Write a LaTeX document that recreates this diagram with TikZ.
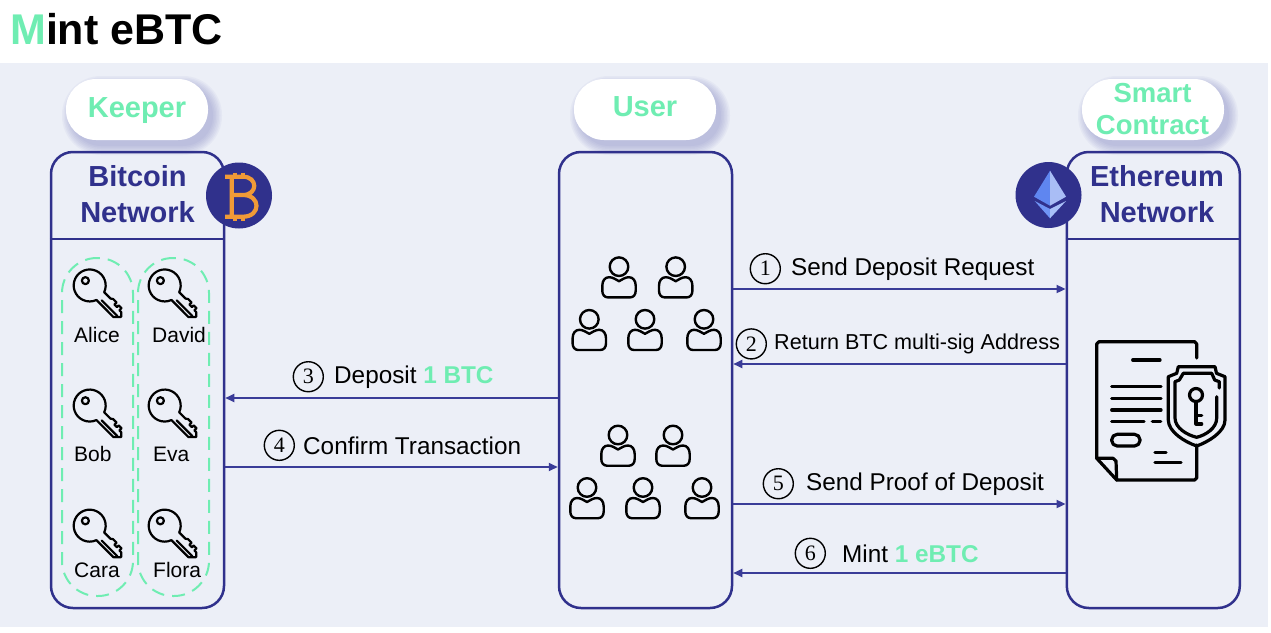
\documentclass[tikz,border=0pt]{standalone}
\usepackage{fontspec}
\setmainfont{Liberation Sans}
\newfontfamily\digitfont{Liberation Serif}
\usetikzlibrary{positioning, arrows.meta}
\definecolor{mintgreen}{HTML}{6FEDB2}
\definecolor{netblue}{HTML}{30318C}
\definecolor{linkblue}{HTML}{3A3C98}
\definecolor{bgblue}{HTML}{ECEFF7}
\definecolor{shadeblue}{HTML}{5A5DB0}
\definecolor{coinorange}{HTML}{F09A37}
\definecolor{ethleft}{HTML}{5F86F0}
\definecolor{ethright}{HTML}{A9BDF5}
\definecolor{ethlowleft}{HTML}{6F94F5}
\definecolor{ethlowright}{HTML}{A9C0F8}

\tikzset{
    >={Triangle[length=9pt,width=8pt]},
    panel/.style={draw=netblue, line width=2.5pt, rounded corners=22pt, minimum width=173pt, minimum height=456pt, inner sep=0pt},
    pilltag/.style={fill=white, rounded corners=30pt, minimum width=142pt, minimum height=61pt, inner sep=0pt},
    tagtext/.style={text=mintgreen, font=\bfseries\fontsize{29}{32}\selectfont, align=center, inner sep=0pt},
    nettext/.style={text=netblue, font=\bfseries\fontsize{29}{36}\selectfont, align=center, inner sep=0pt},
    link/.style={->, draw=linkblue, line width=2pt},
    steptext/.style={anchor=base west, inner sep=0pt, font=\fontsize{24.3}{28}\selectfont},
    stepnum/.style={draw, circle, line width=1.4pt, minimum size=30pt, inner sep=0pt, font=\digitfont\fontsize{22}{22}\selectfont},
    holder/.style={text=black, anchor=base west, inner sep=0pt, font=\fontsize{21}{24}\selectfont},
    keygroup/.style={draw=mintgreen, line width=2pt, dash pattern=on 13pt off 8pt, rounded corners=35pt, minimum width=71pt, minimum height=338pt, inner sep=0pt},
    badge/.style={circle, fill=netblue, minimum size=66pt, inner sep=0pt},
    icon/.style={line width=2.2pt, line join=round, line cap=round},
    pics/keyicon/.style={code={
        \begin{scope}[icon, x={(0.707pt,-0.707pt)}, y={(0.707pt,0.707pt)}]
            \draw (15,5.5) arc[start angle=20, end angle=340, radius=16] -- (39,-5.5) -- (44.5,0) -- (41,3.5)
                -- (38.5,3.5) -- (38.5,6.5) -- (34.5,6.5) -- (34.5,4) -- (31,4) -- (31,7) -- (26,7) -- (24,5.5) -- cycle;
            \draw (19,-2) -- (41,-2);
            \draw (-6.5,0.4) circle[radius=3.5];
        \end{scope}
    }},
    pics/personicon/.style={code={
        \draw[icon, line width=2.4pt] (0,0) circle[radius=9.3];
        \draw[icon, line width=2.4pt] (0,14.5) .. controls (-3,13) and (-6,10.5) .. (-10,10.5)
            .. controls (-14,10.5) and (-16.7,14) .. (-16.7,19) -- (-16.7,24)
            .. controls (-16.7,28) and (-14.5,30.7) .. (-11,30.7) -- (11,30.7)
            .. controls (14.5,30.7) and (16.7,28) .. (16.7,24) -- (16.7,19)
            .. controls (16.7,14) and (14,10.5) .. (10,10.5)
            .. controls (6,10.5) and (3,13) .. (0,14.5) -- cycle;
    }}
}

\begin{document}
\begin{tikzpicture}[x=1pt, y=-1pt]
    \useasboundingbox (0,0) rectangle (1271,632);
    \fill[white] (0,0) rectangle (1271,632);
    \fill[bgblue] (0,63) rectangle (1268,627);

    \node[anchor=base west, inner sep=0pt, font=\bfseries\fontsize{43}{43}\selectfont] (title) at (10,44) {\textcolor{mintgreen}{M}int eBTC};

    % soft shadows under the tags
    \foreach \cx in {137,645,1153} {
        \foreach \grow in {9,7.5,...,0} {
            \fill[shadeblue, opacity=0.05, rounded corners=30pt+\grow pt]
                (\cx-71-\grow+5,79-\grow+6) rectangle (\cx+71+\grow+5,140+\grow+6);
        }
    }
    \node[pilltag] (keeper) at (137,109.5) {};
    \node[pilltag] (user) at (645,109.5) {};
    \node[pilltag] (smart) at (1153,109.5) {};
    \node[tagtext] (keepertext) at (137,110.5) {Keeper};
    \node[tagtext] (usertext) at (645,107) {User};
    \node[tagtext, font=\bfseries\fontsize{27.5}{32}\selectfont] (smarttext) at (1152.5,109) {Smart\\Contract};

    % the three columns
    \node[panel] (btcnet) at (137.5,380) {};
    \node[panel] (users) at (645.5,380) {};
    \node[panel] (ethnet) at (1153.3,380) {};
    \draw[draw=netblue, line width=2.5pt] (btcnet.west |- 0,239) -- (btcnet.east |- 0,239);
    \draw[draw=netblue, line width=2.5pt] (ethnet.west |- 0,239) -- (ethnet.east |- 0,239);
    \node[nettext] (btctext) at (137.5,194) {Bitcoin\\Network};
    \node[nettext] (ethtext) at (1157,194) {Ethereum\\Network};

    % bitcoin badge
    \node[badge] (btcbadge) at (239,195.5) {};
    \draw[coinorange, line width=4.2pt, line join=round] (225,176.7) -- (243,176.7)
        .. controls (258,176.7) and (258,195) .. (243,195) -- (231.7,195)
        (243,195) .. controls (261,195) and (261,216.7) .. (243,216.7) -- (225,216.7)
        (231.7,176.7) -- (231.7,216.7);
    \draw[coinorange, line width=3.4pt] (235,172.5) -- (235,176.7) (243,172.5) -- (243,176.7)
        (235,216.7) -- (235,220.5) (243,216.7) -- (243,220.5);

    % ethereum badge
    \node[badge] (ethbadge) at (1048.5,195) {};
    \fill[ethleft] (1050,170.7) -- (1034,196.7) -- (1050,205.7) -- cycle;
    \fill[ethright] (1050,170.7) -- (1066,196.7) -- (1050,205.7) -- cycle;
    \fill[ethlowleft] (1034.7,201) -- (1050,209) -- (1050,218.3) -- cycle;
    \fill[ethlowright] (1066,201) -- (1050,209) -- (1050,218.3) -- cycle;

    % keys and their holders
    \node[keygroup] (leftkeys) at (97.5,427) {};
    \node[keygroup] (rightkeys) at (173.5,427) {};
    \pic at (89.7,285.5) {keyicon};
    \pic at (164.7,285.5) {keyicon};
    \pic at (89.7,405.6) {keyicon};
    \pic at (164.7,405.6) {keyicon};
    \pic at (89.7,525.7) {keyicon};
    \pic at (164.7,525.7) {keyicon};
    \node[holder] (alice) at (74,342) {Alice};
    \node[holder] (david) at (152,342) {David};
    \node[holder] (bob) at (74,461) {Bob};
    \node[holder] (eva) at (153,461) {Eva};
    \node[holder] (cara) at (74,577) {Cara};
    \node[holder] (flora) at (153,577) {Flora};

    % two groups of users
    \pic at (619,266.7) {personicon};
    \pic at (675.7,266.7) {personicon};
    \pic at (589.3,319.3) {personicon};
    \pic at (645,319.3) {personicon};
    \pic at (704,319.3) {personicon};
    \pic at (618,435) {personicon};
    \pic at (673,435) {personicon};
    \pic at (587,487.5) {personicon};
    \pic at (643,487.5) {personicon};
    \pic at (702,487.5) {personicon};

    % contract document with shield
    \begin{scope}[line width=3.2pt, line join=round, line cap=round]
        \draw (1196.7,358) -- (1196.7,344) -- (1194.7,341.7) -- (1099,341.7) -- (1096.7,344) -- (1096.7,458.3)
            -- (1116.7,480) -- (1194.7,480) -- (1196.7,478) -- (1196.7,445);
        \draw (1096.7,458.3) -- (1113,458.3) -- (1116,461) -- (1116.7,480);
        \draw (1132.7,360) -- (1160,360);
        \draw (1111.7,386.3) -- (1161,386.3);
        \draw (1111.7,398.3) -- (1161,398.3);
        \draw (1111.7,410) -- (1161,410);
        \draw (1111.7,421.7) -- (1144,421.7);
        \draw (1152.3,421.7) -- (1160.7,421.7);
        \draw[rounded corners=5.5pt] (1111.7,434.3) rectangle (1140,446);
        \draw (1155,452.7) -- (1166,452.7);
        \draw (1155,462.3) -- (1181,462.3);
        % shield
        \draw (1178.3,366.7) -- (1215,366.7) -- (1216.5,373.3) -- (1225,376.7) -- (1225,420)
            .. controls (1225,432) and (1208,442) .. (1196.7,446)
            .. controls (1185,442) and (1168.3,432) .. (1168.3,420) -- (1168.3,376.7) -- (1176.7,373.3) -- cycle;
        \draw (1219.3,388) -- (1219.3,381.7) -- (1214.7,380) -- (1211.7,373.3) -- (1183.3,373.3) -- (1179.3,380) -- (1175,381.7)
            -- (1175,418) .. controls (1175,428) and (1187,435) .. (1196.7,437.3)
            .. controls (1206,435) and (1216.7,428) .. (1216.7,418) -- (1216.7,396.7);
        \draw (1196,395) circle[radius=6.5];
        \draw (1196,401.7) -- (1196,424) -- (1201.7,424) (1196,415.5) -- (1201.7,415.5);
    \end{scope}

    % message rows
    \coordinate (row1) at (0,289);
    \coordinate (row2) at (0,364);
    \coordinate (row3) at (0,398);
    \coordinate (row4) at (0,467);
    \coordinate (row5) at (0,504);
    \coordinate (row6) at (0,573);

    \draw[link] (users.east |- row1) -- (ethnet.west |- row1);
    \draw[link] (ethnet.west |- row2) -- (users.east |- row2);
    \draw[link] (users.west |- row3) -- (btcnet.east |- row3);
    \draw[link] (btcnet.east |- row4) -- (users.west |- row4);
    \draw[link] (users.east |- row5) -- (ethnet.west |- row5);
    \draw[link] (ethnet.west |- row6) -- (users.east |- row6);

    \node[steptext] (senddeposit) at (791,275) {Send Deposit Request};
    \node[steptext, font=\fontsize{21.6}{24}\selectfont] (returnaddr) at (774,349.5) {Return BTC multi-sig Address};
    \node[steptext] (deposit) at (334,383) {Deposit \textcolor{mintgreen}{\textbf{1 BTC}}};
    \node[steptext] (confirm) at (303,454) {Confirm Transaction};
    \node[steptext] (sendproof) at (806,490) {Send Proof of Deposit};
    \node[steptext] (mint) at (842,562) {Mint \textcolor{mintgreen}{\textbf{1 eBTC}}};

    \node[stepnum, left=10pt of senddeposit] (num1) {1};
    \node[stepnum, left=7pt of returnaddr] (num2) {2};
    \node[stepnum, left=10pt of deposit] (num3) {3};
    \node[stepnum, left=8pt of confirm] (num4) {4};
    \node[stepnum, left=12pt of sendproof] (num5) {5};
    \node[stepnum, left=16pt of mint] (num6) {6};
\end{tikzpicture}
\end{document}
